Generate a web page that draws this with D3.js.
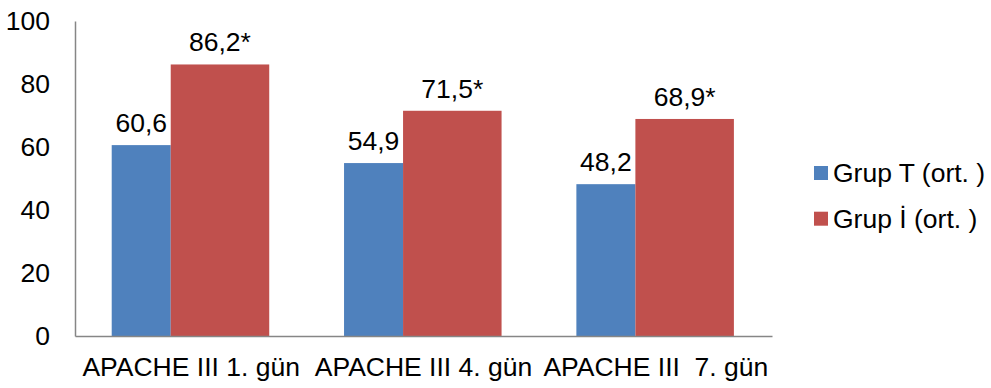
<!DOCTYPE html>
<html>
<head>
<meta charset="utf-8">
<script src="https://cdn.jsdelivr.net/npm/d3@7"></script>
<style>
  html, body { margin: 0; padding: 0; background: #fff; }
  svg { display: block; font-family: "Liberation Sans", Arial, sans-serif; }
</style>
</head>
<body>
<svg id="chart" width="991" height="388"></svg>
<script>
// Categories and series
const categories = ["APACHE III 1. gün", "APACHE III 4. gün", "APACHE III  7. gün"];
const seriesNames = ["Grup T (ort. )", "Grup İ (ort. )"];
const grupT = [60.6, 54.9, 48.2];
const grupI = [86.2, 71.5, 68.9];
const grupTLabels = ["60,6", "54,9", "48,2"];
const grupILabels = ["86,2*", "71,5*", "68,9*"];
const yTicks = [0, 20, 40, 60, 80, 100];

const colors = ["#4F81BD", "#C0504D"];
const fontSize = 26.5;

const svg = d3.select("#chart");

const plot = { left: 75, right: 772, top: 21, bottom: 336 };

const x = d3.scaleBand().domain(categories).range([plot.left, plot.right]).padding(0);
const y = d3.scaleLinear().domain([0, 100]).range([plot.bottom, plot.top]);

// Within each category band: offset and width of each series' bar (fractions of the band)
const bw = x.bandwidth();
const sub = [
  { off: 0.158, w: 0.254 },
  { off: 0.412, w: 0.424 }
];

const series = [
  { name: seriesNames[0], values: grupT, labels: grupTLabels, color: colors[0], idx: 0 },
  { name: seriesNames[1], values: grupI, labels: grupILabels, color: colors[1], idx: 1 }
];

// Bars
series.forEach(s => {
  svg.append("g").selectAll("rect")
    .data(categories)
    .join("rect")
    .attr("x", (c) => x(c) + sub[s.idx].off * bw)
    .attr("width", sub[s.idx].w * bw)
    .attr("y", (c, i) => y(s.values[i]))
    .attr("height", (c, i) => y(0) - y(s.values[i]))
    .attr("fill", s.color);

  // Value labels above the bars
  svg.append("g").selectAll("text")
    .data(categories)
    .join("text")
    .attr("x", (c) => x(c) + (sub[s.idx].off + sub[s.idx].w / 2) * bw)
    .attr("y", (c, i) => y(s.values[i]) - 13)
    .attr("text-anchor", "middle")
    .attr("font-size", fontSize)
    .attr("fill", "#000")
    .text((c, i) => s.labels[i]);
});

// Y axis
const yAxis = d3.axisLeft(y).tickValues(yTicks).tickSize(0).tickPadding(25)
  .tickFormat(d3.format("d"));
const gy = svg.append("g").attr("transform", `translate(${plot.left},0)`).call(yAxis);
gy.select(".domain").attr("stroke", "#868686").attr("stroke-width", 1.5);
gy.selectAll("text").attr("font-size", fontSize).attr("fill", "#000")
  .attr("font-family", "Liberation Sans, Arial, sans-serif");

// X axis
const xAxis = d3.axisBottom(x).tickSize(0).tickPadding(21);
const gx = svg.append("g").attr("transform", `translate(0,${plot.bottom})`).call(xAxis);
gx.select(".domain").attr("stroke", "#868686").attr("stroke-width", 1.5);
gx.selectAll("text").attr("font-size", fontSize).attr("fill", "#000")
  .attr("font-family", "Liberation Sans, Arial, sans-serif")
  .style("white-space", "pre");

// Legend
const legend = svg.append("g").attr("transform", "translate(814,166)");
const items = legend.selectAll("g").data(series).join("g")
  .attr("transform", (d, i) => `translate(0,${i * 45.7})`);
items.append("rect").attr("width", 14).attr("height", 14).attr("fill", d => d.color);
items.append("text").attr("x", 19).attr("y", 7).attr("dy", "0.35em")
  .attr("font-size", fontSize).attr("fill", "#000").text(d => d.name);
</script>
</body>
</html>
